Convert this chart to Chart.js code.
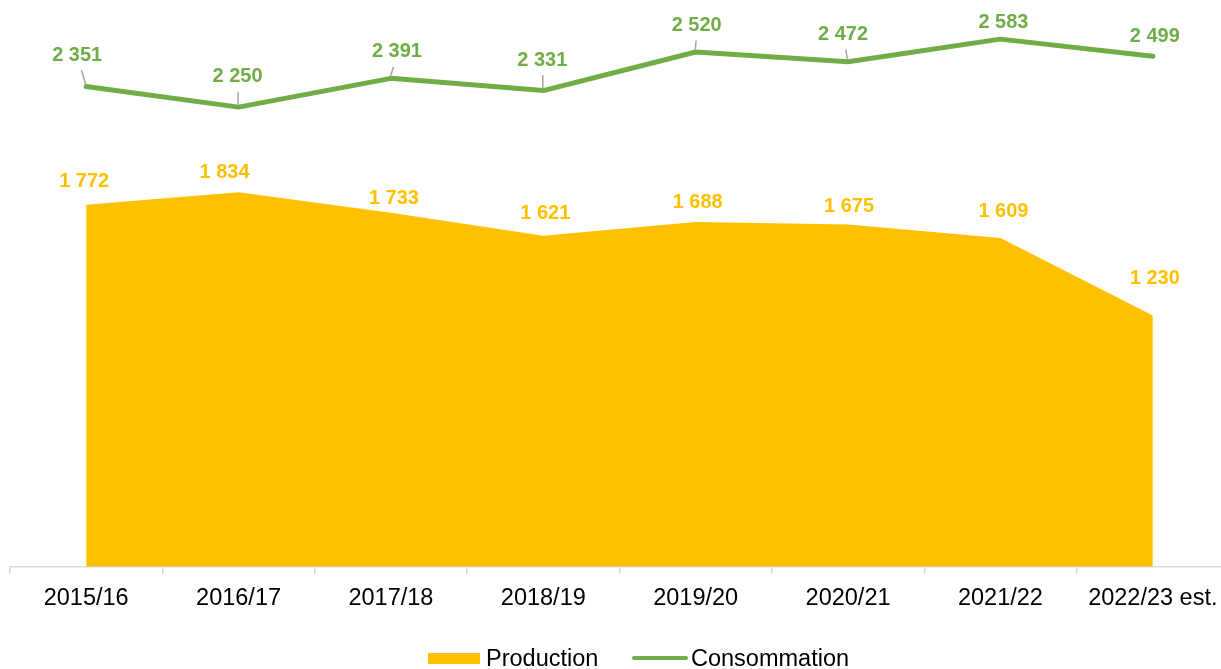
<!DOCTYPE html>
<html>
<head>
<meta charset="utf-8">
<script src="https://cdn.jsdelivr.net/npm/chart.js@4/dist/chart.umd.min.js"></script>
<style>
  html, body { margin: 0; padding: 0; background: #fff; overflow: hidden; }
  #wrap { width: 1221px; height: 669px; position: relative; overflow: hidden; }
</style>
</head>
<body>
<div id="wrap"><canvas id="chart"></canvas></div>
<script>
// Data
const categories = ['2015/16', '2016/17', '2017/18', '2018/19', '2019/20', '2020/21', '2021/22', '2022/23 est.'];
const production = [1772, 1834, 1733, 1621, 1688, 1675, 1609, 1230];
const consommation = [2351, 2250, 2391, 2331, 2520, 2472, 2583, 2499];

// label offsets from each point (pixels)
const consoOffsets = [[-9, -31.5], [-1, -30.5], [6, -26.5], [-1, -30.5], [1, -26.5], [-5, -27.5], [3, -16.5], [2, -20]];
const prodOffsets = [[-2, -23], [-14, -20], [3, -14.5], [2, -22], [2, -19], [1, -18], [3, -27], [2, -37]];

const YELLOW = '#FFC000';
const GREEN = '#70AD47';
const FONT = '"Liberation Sans", Arial, sans-serif';

function fmt(v) {
    return String(v).replace(/\B(?=(\d{3})+(?!\d))/g, ' ');
}

// Draw value labels above the points
const valueLabels = {
    id: 'valueLabels',
    afterDatasetsDraw(chart) {
        const ctx = chart.ctx;
        ctx.save();
        ctx.font = 'bold 20px ' + FONT;
        ctx.textAlign = 'center';
        ctx.textBaseline = 'middle';
        chart.data.datasets.forEach(function (ds, i) {
            const meta = chart.getDatasetMeta(i);
            const offs = i === 0 ? prodOffsets : consoOffsets;
            meta.data.forEach(function (pt, j) {
                const lx = pt.x + offs[j][0];
                const ly = pt.y + offs[j][1];
                // leader line when label sits far from the point
                if (i === 1 && pt.y - (ly + 7.5) > 14) {
                    const yEnd = ly + 15;
                    const t = (pt.y - yEnd) / (pt.y - ly);
                    ctx.strokeStyle = '#A6A6A6';
                    ctx.lineWidth = 1.5;
                    ctx.beginPath();
                    ctx.moveTo(pt.x - 0.5, pt.y - 2);
                    ctx.lineTo(pt.x + (lx - pt.x) * t, yEnd);
                    ctx.stroke();
                }
                ctx.fillStyle = ds.labelColor;
                ctx.fillText(fmt(ds.data[j]), lx, ly);
            });
        });
        ctx.restore();
    }
};

// Legend drawn by hand: filled box for the area, line for the series
const customLegend = {
    id: 'customLegend',
    afterDraw(chart) {
        const ctx = chart.ctx;
        ctx.save();
        ctx.font = '23.5px ' + FONT;
        ctx.textBaseline = 'alphabetic';
        const y = 666;
        let x = 428;
        ctx.fillStyle = YELLOW;
        ctx.fillRect(x, 653, 52, 11);
        ctx.fillStyle = '#000';
        ctx.fillText('Production', x + 58, y);
        x = 632;
        ctx.strokeStyle = GREEN;
        ctx.lineWidth = 4;
        ctx.lineCap = 'round';
        ctx.beginPath();
        ctx.moveTo(x + 2, 658);
        ctx.lineTo(x + 54, 658);
        ctx.stroke();
        ctx.fillText('Consommation', x + 59, y);
        ctx.restore();
    }
};

const config = {
    type: 'line',
    data: {
        labels: categories,
        datasets: [{
            label: 'Production',
            data: production,
            fill: 'origin',
            backgroundColor: YELLOW,
            borderWidth: 0,
            pointRadius: 0,
            tension: 0,
            labelColor: YELLOW
        }, {
            label: 'Consommation',
            data: consommation,
            fill: false,
            borderColor: GREEN,
            borderWidth: 5,
            borderCapStyle: 'round',
            borderJoinStyle: 'round',
            pointRadius: 0,
            tension: 0,
            labelColor: GREEN
        }]
    },
    options: {
        responsive: false,
        animation: false,
        layout: {
            padding: { left: 10, right: 0, top: 5, bottom: 45 }
        },
        plugins: {
            legend: { display: false },
            tooltip: { enabled: false }
        },
        scales: {
            x: {
                offset: true,
                grid: {
                    offset: true,
                    drawOnChartArea: false,
                    drawTicks: true,
                    tickLength: 7,
                    color: '#D9D9D9',
                    lineWidth: 1.5
                },
                border: { color: '#D9D9D9', width: 1.5 },
                ticks: {
                    color: '#000',
                    font: { family: FONT, size: 23.5 },
                    padding: 11,
                    maxRotation: 0,
                    autoSkip: false
                }
            },
            y: {
                display: false,
                min: 0,
                max: 2750
            }
        }
    },
    plugins: [valueLabels, customLegend]
};

// canvas a bit wider than the window: the plot runs past the right edge
const canvas = document.getElementById('chart');
canvas.width = 1229;
canvas.height = 669;
new Chart(canvas.getContext('2d'), config);
</script>
</body>
</html>
